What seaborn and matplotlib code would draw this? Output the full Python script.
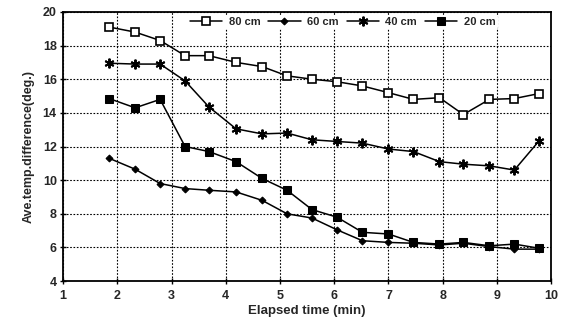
import matplotlib
matplotlib.use("Agg")
import matplotlib.pyplot as plt
import seaborn as sns
import pandas as pd

time_min = [1.85, 2.33, 2.79, 3.25, 3.69, 4.19, 4.67, 5.13, 5.59,
            6.05, 6.52, 7.0, 7.46, 7.94, 8.38, 8.86, 9.32, 9.78]
s80 = [19.1, 18.8, 18.3, 17.4, 17.4, 17.0, 16.75, 16.2, 16.0,
       15.85, 15.6, 15.2, 14.8, 14.9, 13.9, 14.8, 14.85, 15.15]
s60 = [11.3, 10.65, 9.8, 9.5, 9.4, 9.3, 8.8, 8.0, 7.75,
       7.05, 6.4, 6.3, 6.25, 6.15, 6.25, 6.05, 5.9, 5.9]
s40 = [16.95, 16.9, 16.9, 15.9, 14.35, 13.05, 12.75, 12.8, 12.4,
       12.3, 12.2, 11.85, 11.7, 11.1, 10.95, 10.85, 10.6, 12.35]
s20 = [14.85, 14.3, 14.8, 12.0, 11.7, 11.1, 10.1, 9.4, 8.25,
       7.8, 6.9, 6.8, 6.3, 6.2, 6.3, 6.1, 6.2, 5.95]
labels = ["80 cm", "60 cm", "40 cm", "20 cm"]
x_ticks = [1, 2, 3, 4, 5, 6, 7, 8, 9, 10]
y_ticks = [4, 6, 8, 10, 12, 14, 16, 18, 20]

sns.set_theme(style="white")
plt.rcParams['font.family'] = ['Liberation Sans', 'DejaVu Sans']

fig = plt.figure(figsize=(5.73, 3.22), dpi=100)
ax = fig.add_axes([0.110, 0.127, 0.852, 0.836])

styles = [
    dict(marker='s', markersize=5.5, markerfacecolor='white', markeredgecolor='black', markeredgewidth=1.2),
    dict(marker='D', markersize=3.5, markerfacecolor='black', markeredgecolor='black'),
    dict(marker=(6, 2, 0), markersize=7, markeredgecolor='black', markeredgewidth=1.4),
    dict(marker='s', markersize=5.5, markerfacecolor='black', markeredgecolor='black'),
]
for vals, lab, st in zip([s80, s60, s40, s20], labels, styles):
    df = pd.DataFrame({"t": time_min, "v": vals})
    sns.lineplot(data=df, x="t", y="v", ax=ax, color='black', linewidth=1.1,
                 label=lab, **st)

ax.set_xlim(1, 10)
ax.set_ylim(4, 20)
ax.set_xticks(x_ticks)
ax.set_yticks(y_ticks)
ax.set_xticklabels([str(v) for v in x_ticks], fontsize=9, fontweight='bold')
ax.set_yticklabels([str(v) for v in y_ticks], fontsize=9, fontweight='bold')
ax.tick_params(axis='both', which='both', direction='inout', length=5, width=1,
               color='black', pad=2, bottom=True, left=True)
ax.tick_params(axis='x', pad=4)
ax.grid(True, linestyle=(0, (1.5, 1.5)), color='black', linewidth=0.8)
for sp in ax.spines.values():
    sp.set_color('black')
    sp.set_linewidth(1.3)
ax.set_xlabel("Elapsed time (min)", fontsize=9.5, fontweight='bold', labelpad=2)
ax.set_ylabel("Ave.temp.difference(deg.)", fontsize=9, fontweight='bold', labelpad=6)

leg = ax.legend(loc='upper center', bbox_to_anchor=(0.573, 1.01), ncol=4, frameon=True,
                facecolor='white', edgecolor='none', framealpha=1,
                fontsize=8, handlelength=2.9, handletextpad=0.6, columnspacing=0.7,
                borderpad=0.2)
for t in leg.get_texts():
    t.set_fontweight('bold')

fig.savefig("out.png", dpi=100, facecolor='white')
